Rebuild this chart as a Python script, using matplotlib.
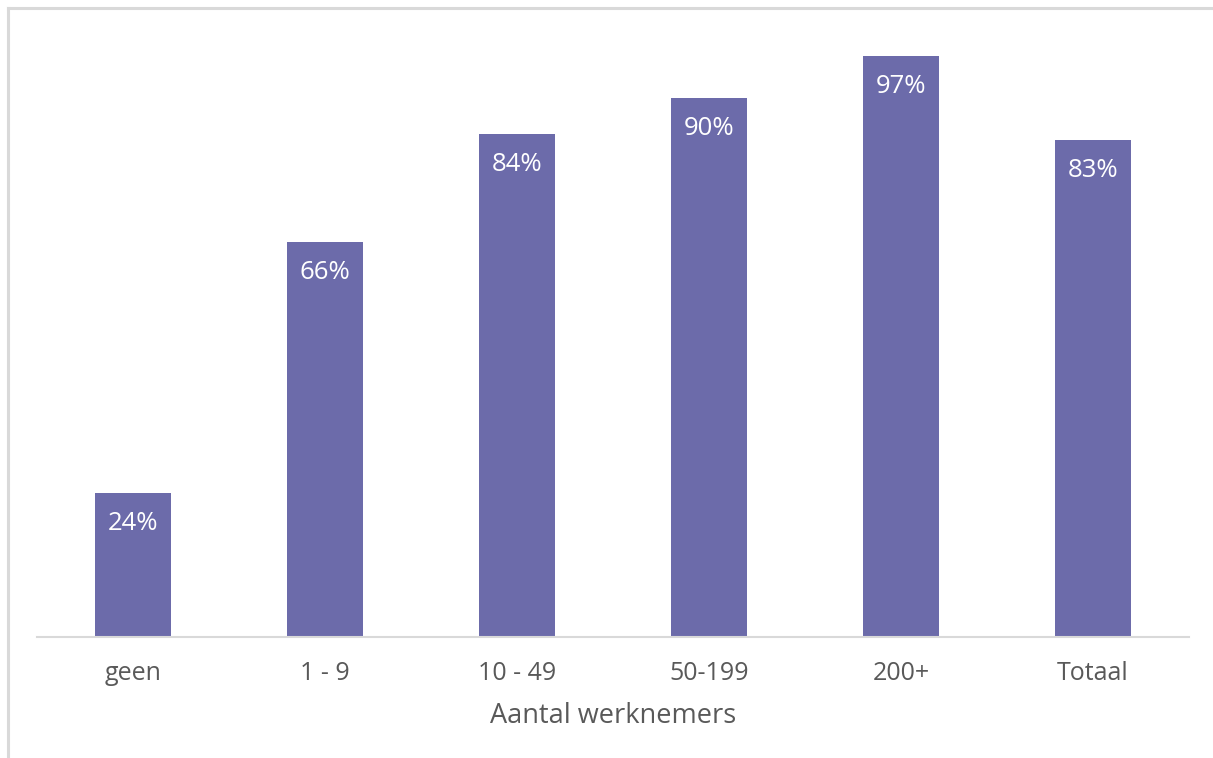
import matplotlib
matplotlib.use("Agg")
import matplotlib.pyplot as plt
from matplotlib.lines import Line2D

categories = ["geen", "1 - 9", "10 - 49", "50-199", "200+", "Totaal"]
values = [24, 66, 84, 90, 97, 83]

BAR_COLOR = "#6C6BAA"
TEXT_GRAY = "#595959"
LINE_GRAY = "#D9D9D9"

plt.rcParams["font.family"] = ["Open Sans", "DejaVu Sans"]

fig = plt.figure(figsize=(12.13, 7.58), dpi=100)
ax = fig.add_axes([0.0305, 0.1596, 0.9497, 0.7904])

x = range(len(categories))
bars = ax.bar(x, values, width=0.4, color=BAR_COLOR, zorder=2)

for rect, v in zip(bars, values):
    ax.annotate(f"{v}%", (rect.get_x() + rect.get_width() / 2, v),
                xytext=(0, -22), textcoords="offset points",
                ha="center", va="center", color="white", fontsize=18.5)

ax.set_xlim(-0.5, len(categories) - 0.5)
ax.set_ylim(0, 100)
ax.set_xticks(list(x))
ax.set_xticklabels(categories, fontsize=18, color=TEXT_GRAY)
ax.tick_params(axis="x", length=0, pad=17)
ax.set_yticks([])
ax.set_xlabel("Aantal werknemers", fontsize=19.5, color=TEXT_GRAY, labelpad=12)

for side in ["top", "right", "left"]:
    ax.spines[side].set_visible(False)
ax.spines["bottom"].set_color(LINE_GRAY)
ax.spines["bottom"].set_linewidth(1.5)

# light frame around the chart area (top and left edges)
fig.add_artist(Line2D([8 / 1213, 1.0], [1 - 8 / 758, 1 - 8 / 758],
                      transform=fig.transFigure, color=LINE_GRAY, linewidth=2.2))
fig.add_artist(Line2D([8 / 1213, 8 / 1213], [0.0, 1 - 8 / 758],
                      transform=fig.transFigure, color=LINE_GRAY, linewidth=2.2))

fig.savefig("out.png", dpi=100)
